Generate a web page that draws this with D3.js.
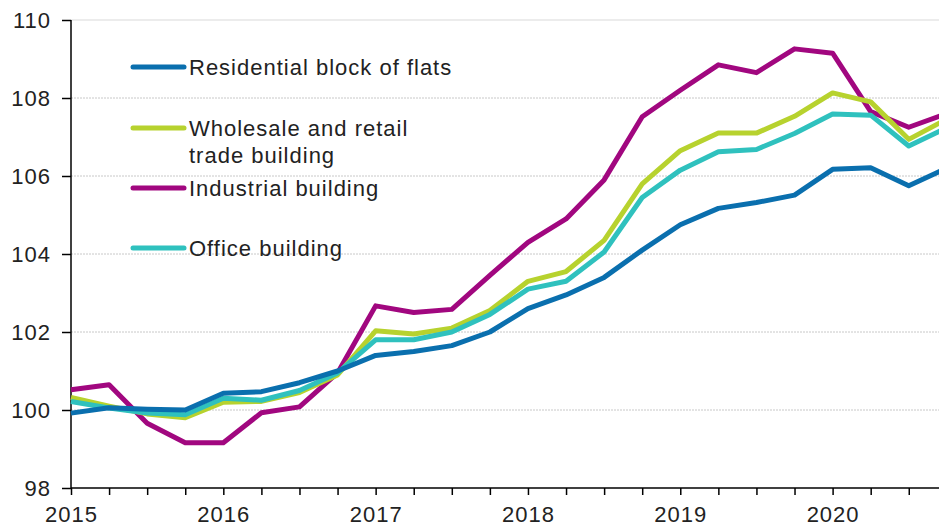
<html>

<head>
    <meta charset="UTF-8">
    <script src="https://d3js.org/d3.v7.min.js"></script>
    <title>Building cost index</title>
    <style>
        body { margin: 0; background: #fff; }
        text { font-family: "Liberation Sans", Arial, sans-serif; fill: #222; letter-spacing: 1px; }
    </style>
</head>

<body>
    <svg width="939" height="532"></svg>

    <script>
        // quarters 2015Q1 .. 2020Q4
        const years = ['2015', '2016', '2017', '2018', '2019', '2020'];
        const quarters = d3.range(24);
        const yTicks = [98, 100, 102, 104, 106, 108, 110];

        const residential = [99.92, 100.06, 100.02, 100.0, 100.43, 100.47, 100.7, 101.0, 101.4, 101.5, 101.65, 102.0,
            102.6, 102.95, 103.4, 104.1, 104.75, 105.17, 105.32, 105.51, 106.17, 106.21, 105.75, 106.2];
        const wholesale = [100.32, 100.1, 99.9, 99.8, 100.2, 100.22, 100.45, 100.9, 102.03, 101.95, 102.1, 102.55,
            103.3, 103.55, 104.35, 105.8, 106.65, 107.1, 107.1, 107.53, 108.13, 107.9, 106.94, 107.46];
        const industrial = [100.52, 100.65, 99.66, 99.16, 99.16, 99.93, 100.08, 100.95, 102.67, 102.5, 102.58, 103.45,
            104.3, 104.9, 105.9, 107.52, 108.2, 108.85, 108.65, 109.26, 109.15, 107.65, 107.25, 107.6];
        const office = [100.22, 100.05, 99.92, 99.88, 100.3, 100.25, 100.5, 100.95, 101.8, 101.8, 102.0, 102.45,
            103.1, 103.3, 104.05, 105.45, 106.15, 106.62, 106.68, 107.09, 107.59, 107.56, 106.77, 107.24];

        const series = [
            { name: ['Residential block of flats'], values: residential, color: '#0a6fae' },
            { name: ['Wholesale and retail', 'trade building'], values: wholesale, color: '#b7d22e' },
            { name: ['Industrial building'], values: industrial, color: '#a1077f' },
            { name: ['Office building'], values: office, color: '#2fc1be' }
        ];
        // tegnerækkefølge (bagerst først)
        const drawOrder = [2, 1, 3, 0];

        const svg = d3.select('svg');
        const mLeft = 71, mTop = 20, mBottom = 488;

        const x = d3.scaleLinear().domain([0, 23]).range([mLeft, mLeft + 23 * 38.08]);
        const y = d3.scaleLinear().domain([98, 110]).range([mBottom, mTop]);

        // gridlines
        svg.append('g')
            .selectAll('line')
            .data(yTicks.filter(d => d > 98))
            .join('line')
            .attr('x1', mLeft).attr('x2', 939)
            .attr('y1', d => y(d)).attr('y2', d => y(d))
            .style('stroke', d => d === 110 ? '#d9d9d9' : '#c8c8c8')
            .style('stroke-width', 1)
            .style('stroke-dasharray', d => d === 110 ? null : '2,1');

        // y axis
        const yAxis = svg.append('g')
            .attr('transform', 'translate(' + mLeft + ',0)')
            .call(d3.axisLeft(y).tickValues(yTicks).tickSize(9).tickPadding(11).tickFormat(d3.format('d')));
        yAxis.selectAll('text').style('font-size', '22px').attr('dy', '0.35em');

        // x axis
        const xAxis = svg.append('g')
            .attr('transform', 'translate(0,' + mBottom + ')')
            .call(d3.axisBottom(x).tickValues(quarters).tickSize(7).tickPadding(11)
                .tickFormat(i => i % 4 === 0 ? years[i / 4] : ''));
        xAxis.selectAll('text').style('font-size', '22px');

        svg.selectAll('.domain, .tick line').style('stroke', '#000').style('stroke-width', 1.5);
        xAxis.select('.domain').attr('d', 'M' + mLeft + ',0H939');
        yAxis.select('.domain').attr('d', 'M0,' + mTop + 'V' + mBottom);

        // lines
        const line = d3.line()
            .x((d, i) => x(i))
            .y(d => y(d));

        svg.append('g')
            .selectAll('path')
            .data(drawOrder.map(i => series[i]))
            .join('path')
            .attr('d', d => line(d.values))
            .style('fill', 'none')
            .style('stroke', d => d.color)
            .style('stroke-width', 5)
            .style('stroke-linejoin', 'round');

        // legend
        const legendY = [67, 128, 188, 248];
        const legend = svg.append('g')
            .selectAll('g')
            .data(series)
            .join('g')
            .attr('transform', (d, i) => 'translate(131,' + legendY[i] + ')');

        legend.append('line')
            .attr('x1', 2).attr('x2', 53)
            .style('stroke', d => d.color)
            .style('stroke-width', 5)
            .style('stroke-linecap', 'round');

        legend.append('text')
            .attr('x', 58)
            .attr('y', 8)
            .style('font-size', '22px')
            .each(function (d) {
                d3.select(this).selectAll('tspan')
                    .data(d.name)
                    .join('tspan')
                    .attr('x', 58)
                    .attr('dy', (t, i) => i === 0 ? 0 : 27)
                    .text(t => t);
            });
    </script>
</body>

</html>
